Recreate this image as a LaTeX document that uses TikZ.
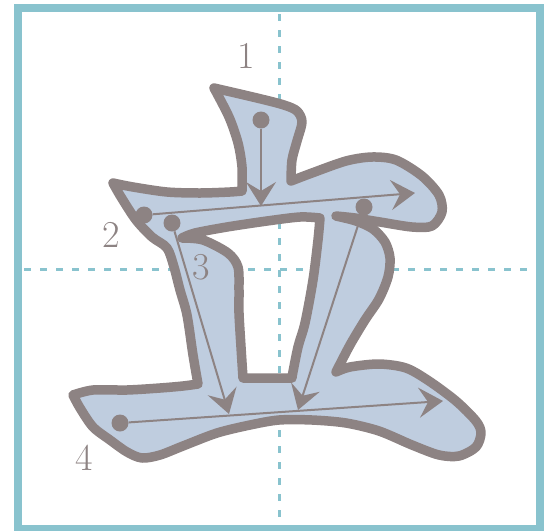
\documentclass[tikz,border=0pt]{standalone}
\usepackage{tikz}
\usetikzlibrary{arrows.meta}
\definecolor{frameteal}{RGB}{137,195,206}
\definecolor{inkgrey}{RGB}{141,131,131}
\definecolor{glyphblue}{RGB}{191,205,223}

\begin{document}
\begin{tikzpicture}[x=1pt, y=-1pt, >={Stealth[length=24pt, width=30pt, inset=9pt]},
	frame/.style={draw=frameteal, line width=8pt},
	guide/.style={draw=frameteal, line width=3pt, dash pattern=on 7pt off 9pt},
	glyph/.style={draw=inkgrey, fill=glyphblue, line width=9.5pt, line join=round},
	dot/.style={circle, fill=inkgrey, minimum size=17pt, inner sep=0pt},
	num/.style={text=inkgrey, inner sep=0pt, font=\fontsize{38}{40}\selectfont},
	order/.style={->, draw=inkgrey, line width=2pt}]
	\useasboundingbox (0,0) rectangle (558,531);
	\draw[guide] (279,14) -- (279,525);
	\draw[guide] (24,269) -- (536,269);
	\draw[frame] (18,8) rectangle (539.5,529);
	\path[glyph, even odd rule]
		plot[smooth, tension=0.5] coordinates {(214,88) (257,98) (284,105) (297,111) (302,122) (297,141) (292,160) (291,181)}
		-- plot[smooth, tension=0.5] coordinates {(291,181) (312,173) (346,161) (372,157) (396,160) (422,176) (439,195) (442,212) (432,226) (412,227) (380,222) (355,218) (336,216)}
		-- plot[smooth, tension=0.5] coordinates {(336,216) (356,221) (373,229) (385,242) (390,258) (388,277) (379,299) (365,320) (350,345) (336,372)}
		-- plot[smooth, tension=0.5] coordinates {(336,372) (350,367) (379,364) (406,368) (429,381) (456,401) (476,421) (481,433) (476,447) (459,456) (439,455) (412,445) (379,431) (346,423) (312,420) (279,420) (250,425) (217,433) (183,446) (160,455) (142,458) (127,452) (110,440) (93,427) (80,408) (73,395)}
		-- plot[smooth, tension=0.5] coordinates {(73,395) (93,390) (127,390) (160,388) (183,386) (198,384)}
		-- plot[smooth, tension=0.5] coordinates {(198,384) (193,355) (187,315) (180,290) (174,267) (167,248) (152,237) (136,220) (121,197) (113,183)}
		-- plot[smooth, tension=0.5] coordinates {(113,183) (133,187) (167,192) (200,193) (230,192) (242,191)}
		-- plot[smooth, tension=0.5] coordinates {(242,191) (242,167) (238,143) (229,117) (214,88)}
		-- cycle
		plot[smooth, tension=0.5] coordinates {(182,238) (195,233) (227,227) (267,221) (300,217) (320,218)}
		-- plot[smooth, tension=0.5] coordinates {(320,218) (318,240) (313,280) (305,323) (298,347) (292,377)}
		-- plot[smooth, tension=0.5] coordinates {(292,378) (243,378)}
		-- plot[smooth, tension=0.5] coordinates {(243,378) (241,347) (239,313) (239,290) (238,267) (228,253) (203,240) (182,238)}
		-- cycle;
	\node[dot] (s1) at (261,120) {};
	\node[dot] (s2) at (144,215) {};
	\node[dot] (s3) at (172,223) {};
	\node[dot] (s4) at (364,207) {};
	\node[dot] (s5) at (120,423) {};
	\coordinate (e1) at (261,206);
	\coordinate (e2) at (415,193);
	\coordinate (e3) at (229,414);
	\coordinate (e4) at (298,410);
	\coordinate (e5) at (443,401);
	\draw[order] (s1) -- (e1);
	\draw[order] (s2) -- (e2);
	\draw[order] (s3) -- (e3);
	\draw[order] (s4) -- (e4);
	\draw[order] (s5) -- (e5);
	\node[num] (n1) at (246,56) {1};
	\node[num] (n2) at (111.5,234.5) {2};
	\node[num] (n3) at (201.5,267.5) {3};
	\node[num] (n4) at (84,457.5) {4};
\end{tikzpicture}
\end{document}
